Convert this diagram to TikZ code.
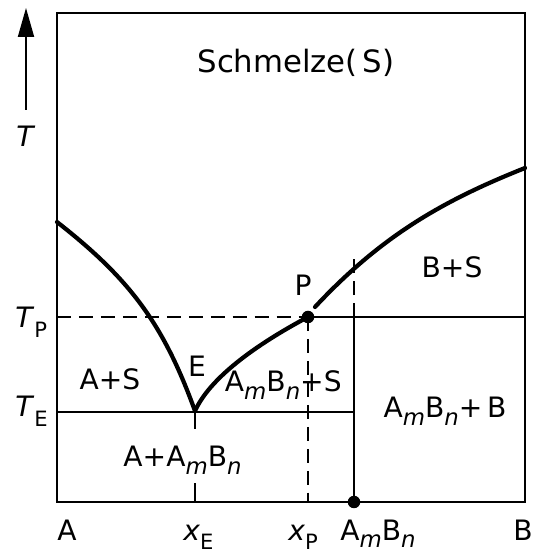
\documentclass[tikz,border=0pt]{standalone}
\usepackage{fontspec}
\setmainfont{DejaVu Sans}
\usetikzlibrary{arrows.meta}
\newcommand\subix[1]{\raisebox{-4pt}{\fontsize{13}{13}\selectfont\itshape #1}}
\newcommand\subup[1]{\raisebox{-5.5pt}{\fontsize{12}{12}\selectfont #1}}
\newcommand\AmBn{A\subix{m}B\subix{n}}

\begin{document}
\begin{tikzpicture}[
  frame/.style={line width=1.1pt},
  liquidus/.style={line width=2.4pt, line cap=round},
  guide/.style={line width=1.1pt, dash pattern=on 8pt off 4.5pt},
  lbl/.style={font=\fontsize{16}{18}\selectfont, inner sep=0pt, anchor=base},
  dot/.style={circle, fill, inner sep=0pt, minimum size=0.25cm}]
  \useasboundingbox (0,0) rectangle (10.66,11.06);

  % key points
  \coordinate (A0) at (1.14,1.02);
  \coordinate (B0) at (10.5,1.02);
  \coordinate (E) at (3.9,2.84);
  \coordinate (P) at (6.16,4.72);
  \coordinate (xE) at (3.9,1.02);
  \coordinate (xP) at (6.16,1.02);
  \coordinate (C0) at (7.08,1.02);
  \coordinate (TP) at (1.14,4.72);
  \coordinate (TE) at (1.14,2.82);
  \coordinate (CP) at (7.08,4.72);
  \coordinate (CE) at (7.08,2.82);
  \coordinate (CT) at (7.08,6.0);
  \coordinate (BP) at (10.5,4.72);
  \coordinate (LA) at (1.14,6.62);
  \coordinate (LB) at (10.5,7.7);
  \coordinate (Q) at (6.3,4.92);

  % frame and temperature arrow
  \draw[frame] (A0) rectangle (10.5,10.8);
  \draw[frame, -{Triangle[length=0.58cm, width=0.32cm]}] (0.52,8.86) -- (0.52,10.9);

  % guide lines
  \draw[guide] (TP) -- (P);
  \draw[guide] (P) -- (xP);
  \draw[guide] (CP) -- (CT);
  \draw[frame] (TE) -- (CE);
  \draw[frame] (P) -- (BP);
  \draw[frame] (C0) -- (CP);
  \draw[frame] (E) -- ++(0,-0.36);
  \draw[frame] (xE) -- ++(0,0.38);

  % liquidus curves
  \draw[liquidus] (LA) .. controls (2.6,5.48) and (3.27,4.58) .. (E);
  \draw[liquidus] (E) .. controls (4.15,3.4) and (4.9,4.05) .. (P);
  \draw[liquidus] (Q) .. controls (7.66,6.38) and (8.92,7.07) .. (LB);

  \node[dot] (Pdot) at (P) {};
  \node[dot] (Cdot) at (C0) {};

  % phase labels
  \node[lbl, font=\fontsize{17.5}{20}\selectfont] (melt) at (5.92,9.6) {Schmelze(\,S)};
  \node[lbl] (BS) at (9.04,5.5) {B+S};
  \node[lbl] (CB) at (8.9,2.7) {\AmBn+\,B};
  \node[lbl] (AS) at (2.2,3.26) {A+S};
  \node[lbl] (Elbl) at (3.94,3.52) {E};
  \node[lbl] (Plbl) at (6.06,5.14) {P};
  \node[lbl, anchor=base east] (CS) at (6.84,3.22) {\AmBn+S};
  \node[lbl] (AC) at (3.65,1.72) {A+\AmBn};

  % axis labels
  \node[lbl] (Tlbl) at (0.5,8.12) {\itshape T};
  \node[lbl, anchor=base west] (TPlbl) at (0.3,4.5) {\textit{T}\subup{P}};
  \node[lbl, anchor=base west] (TElbl) at (0.3,2.72) {\textit{T}\subup{E}};
  \node[lbl] (Albl) at (1.34,0.26) {A};
  \node[lbl, anchor=base west] (xElbl) at (3.66,0.26) {\textit{x}\subup{E}};
  \node[lbl, anchor=base west] (xPlbl) at (5.76,0.26) {\textit{x}\subup{P}};
  \node[lbl, anchor=base west] (Clbl) at (6.8,0.26) {\AmBn};
  \node[lbl] (Blbl) at (10.46,0.26) {B};
\end{tikzpicture}
\end{document}
